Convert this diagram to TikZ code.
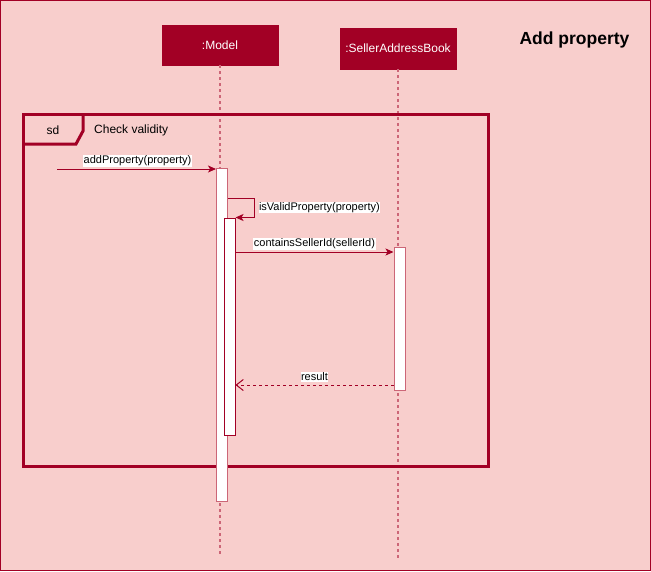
\documentclass[tikz,border=0pt]{standalone}
\usepackage{fontspec}
\setmainfont{Liberation Sans}
\usetikzlibrary{arrows.meta,positioning}
\definecolor{bgred}{HTML}{F8CECC}
\definecolor{darkred}{HTML}{A20025}
\definecolor{linered}{HTML}{CC6677}

\begin{document}
\begin{tikzpicture}[x=1pt, y=-1pt,
  participant/.style={fill=darkred, draw=darkred, text=white, minimum width=116pt, inner sep=0pt, font=\fontsize{12}{14}\selectfont},
  lifeline/.style={draw=linered, line width=1.5pt, dash pattern=on 3pt off 3pt},
  activation/.style={fill=white, draw=#1, line width=1pt, minimum width=11pt, inner sep=0pt},
  frameline/.style={draw=darkred, line width=3pt},
  msg/.style={draw=darkred, line width=1pt, -{Stealth[length=8pt, width=7pt, inset=2pt]}},
  reply/.style={draw=darkred, line width=1pt, dash pattern=on 3pt off 3pt, -{Straight Barb[length=7pt, width=11pt]}},
  msglabel/.style={fill=white, inner sep=0.5pt}]

  \fontsize{11}{13}\selectfont

  \newcommand\YCALL{169};
  \newcommand\YSELF{198};
  \newcommand\YCHK{252};
  \newcommand\YRES{385};

  % background and page border
  \fill[bgred] (0,0) rectangle (651,571);
  \draw[darkred, line width=1pt] (0.5,0.5) rectangle (650.5,570.5);
  \useasboundingbox (0,0) rectangle (651,571);

  \node[font=\bfseries\fontsize{17.5}{20}\selectfont] (title) at (574.5,40) {Add property};

  % participants
  \node[participant, minimum height=40pt] (model) at (220,45) {:Model};
  \node[participant, minimum height=41pt] (seller) at (398,48.5) {:SellerAddressBook};

  \coordinate (model end) at (220,555);
  \coordinate (seller end) at (398,558);
  \draw[lifeline] (model.south) -- (model end);
  \draw[lifeline] (seller.south) -- (seller end);

  % frame
  \draw[frameline] (23,114) rectangle (488,466);
  \draw[frameline] (23,144) -- (76,144) -- (83,131) -- (83,114);
  \node[font=\fontsize{12}{14}\selectfont] (sd) at (53,130) {sd};
  \node[font=\fontsize{12}{14}\selectfont, anchor=west, inner sep=0pt] (frametitle) at (94,130) {Check validity};

  % activations
  \node[activation=linered, minimum height=333pt] (act1) at (222,334.5) {};
  \node[activation=darkred, minimum height=217pt] (act2) at (229.5,326.5) {};
  \node[activation=linered, minimum height=143pt] (act3) at (399.5,318.5) {};

  % messages
  \coordinate (caller) at (57,\YCALL);
  \draw[msg] (caller) -- node[msglabel, above=2pt, xshift=1pt]{addProperty(property)} (caller -| act1.west);

  \coordinate (self right) at (254,\YSELF);
  \draw[msg] (act1.east |- self right) -- (self right) -- (self right |- act2.north)
  -- node[msglabel, right=4pt, pos=0, yshift=10pt, anchor=west]{isValidProperty(property)} (act2.north east);

  \draw[msg] (act2.east |- 0,\YCHK) -- node[msglabel, above=2pt]{containsSellerId(sellerId)} (act3.west |- 0,\YCHK);

  \draw[reply] (act3.west |- 0,\YRES) -- node[msglabel, above=3pt]{result} (act2.east |- 0,\YRES);

\end{tikzpicture}
\end{document}
